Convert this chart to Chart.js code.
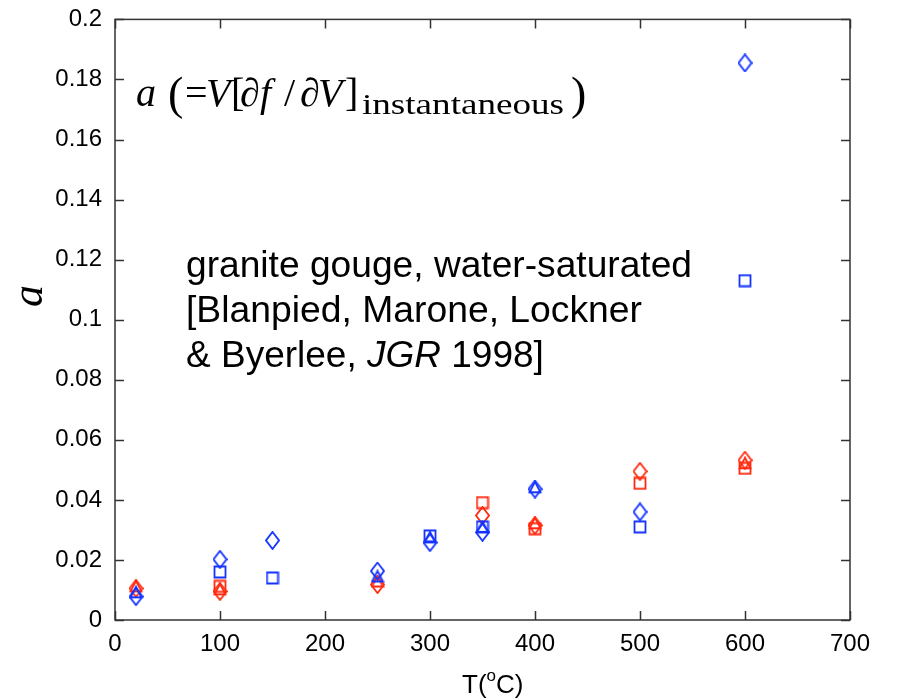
<!DOCTYPE html>
<html>
<head>
<meta charset="utf-8">
<script src="https://cdn.jsdelivr.net/npm/chart.js@4"></script>
<style>
  html, body { margin: 0; padding: 0; background: #fff; }
  #wrap { width: 914px; height: 700px; }
</style>
</head>
<body>
<div id="wrap"><canvas id="myChart" width="914" height="700"></canvas></div>
<script>
const blueSquareT = [100, 150, 300, 350, 500, 600];
const blueSquareA = [0.016, 0.014, 0.028, 0.031, 0.031, 0.113];
const blueDiamondT = [20, 100, 150, 250, 300, 350, 400, 500, 600];
const blueDiamondA = [0.0078, 0.0202, 0.0265, 0.0163, 0.0258, 0.0292, 0.0436, 0.036, 0.1855];
const blueTriangleT = [20, 250, 300, 350, 400];
const blueTriangleA = [0.0092, 0.0145, 0.0275, 0.031, 0.0442];
const redSquareT = [100, 350, 400, 500, 600];
const redSquareA = [0.0112, 0.0391, 0.0304, 0.0455, 0.0505];
const redDiamondT = [20, 100, 250, 350, 400, 500, 600];
const redDiamondA = [0.0105, 0.0095, 0.0118, 0.0348, 0.0315, 0.0495, 0.0532];
const redTriangleT = [20, 100, 250, 400, 600];
const redTriangleA = [0.0112, 0.0102, 0.0128, 0.0322, 0.0522];

const xTicks = [0, 100, 200, 300, 400, 500, 600, 700];
const yTicks = [0, 0.02, 0.04, 0.06, 0.08, 0.1, 0.12, 0.14, 0.16, 0.18, 0.2];

const BLUE = '#1433ff';
const RED = '#ff2a10';

// hollow marker images (matlab style)
function marker(kind, color) {
  const c = document.createElement('canvas');
  const w = kind === 'diamond' ? 15 : 14;
  const h = kind === 'diamond' ? 19 : 14;
  c.width = w; c.height = h;
  const g = c.getContext('2d');
  g.strokeStyle = color;
  g.lineWidth = 1.8;
  g.beginPath();
  if (kind === 'square') {
    g.rect(1.5, 1.5, w - 3, h - 3);
  } else if (kind === 'diamond') {
    g.moveTo(w / 2, 1); g.lineTo(w - 1, h / 2); g.lineTo(w / 2, h - 1); g.lineTo(1, h / 2); g.closePath();
  } else {
    g.moveTo(w / 2, 1.5); g.lineTo(w - 1.5, h - 2); g.lineTo(1.5, h - 2); g.closePath();
  }
  g.stroke();
  return c;
}

function series(label, ts, as, kind, color) {
  return {
    label: label,
    data: ts.map((t, i) => ({ x: t, y: as[i] })),
    showLine: false,
    pointStyle: marker(kind, color),
    pointRadius: 8,
    pointHoverRadius: 8,
    borderColor: color,
    backgroundColor: 'rgba(0,0,0,0)'
  };
}

const sans = "'Liberation Sans', Arial, sans-serif";
const serif = "'Liberation Serif', 'Times New Roman', serif";

// draw a piece of text stretched to a given width
function fitText(g, str, x, y, width) {
  const w = g.measureText(str).width;
  g.save();
  g.translate(x, y);
  g.scale(width / w, 1);
  g.fillText(str, 0, 0);
  g.restore();
}

// inner ticks on all four sides, box, and text annotations
const decor = {
  id: 'decor',
  afterDraw(chart) {
    const g = chart.ctx;
    const a = chart.chartArea;
    const xs = chart.scales.x, ys = chart.scales.y;
    g.save();
    g.strokeStyle = '#333';
    g.lineWidth = 1.5;
    g.strokeRect(a.left, a.top, a.right - a.left, a.bottom - a.top);
    g.beginPath();
    xTicks.forEach(v => {
      const px = Math.round(xs.getPixelForValue(v)) + 0.5;
      g.moveTo(px, a.bottom); g.lineTo(px, a.bottom - 9);
      g.moveTo(px, a.top); g.lineTo(px, a.top + 9);
    });
    yTicks.forEach(v => {
      const py = Math.round(ys.getPixelForValue(v)) + 0.5;
      g.moveTo(a.left, py); g.lineTo(a.left + 9, py);
      g.moveTo(a.right, py); g.lineTo(a.right - 9, py);
    });
    g.stroke();

    g.fillStyle = '#000';
    g.textBaseline = 'alphabetic';
    // formula
    const base = 106;
    g.font = "italic 40px " + serif;
    g.fillText('a', 136, base);
    g.font = "46px " + serif;
    g.fillText('(', 168, base + 3);
    g.font = "40px " + serif;
    g.fillText('=', 185, base);
    g.font = "italic 40px " + serif;
    g.fillText('V', 206, base);
    g.font = "40px " + serif;
    g.fillText('[', 231, base);
    g.fillText('\u2202', 240, base);
    g.font = "italic 40px " + serif;
    g.fillText('f', 260, base);
    g.font = "40px " + serif;
    g.fillText('/', 284, base);
    g.fillText('\u2202', 300, base);
    g.font = "italic 40px " + serif;
    g.fillText('V', 318, base);
    g.font = "40px " + serif;
    g.fillText(']', 345, base);
    g.font = "30px " + serif;
    fitText(g, 'instantaneous', 362, base + 8, 202);
    g.font = "46px " + serif;
    g.fillText(')', 571, base + 3);

    // dataset note
    const x0 = 186;
    g.font = "37px " + sans;
    fitText(g, 'granite gouge, water-saturated', x0, 277, 506);
    fitText(g, '[Blanpied, Marone, Lockner', x0, 322, 456);
    const pre = '& Byerlee, ';
    g.fillText(pre, x0, 367);
    let w = g.measureText(pre).width;
    g.font = "italic 37px " + sans;
    g.fillText('JGR', x0 + w, 367);
    w += g.measureText('JGR').width;
    g.font = "37px " + sans;
    g.fillText(' 1998]', x0 + w, 367);

    // x axis title with superscript
    g.font = "26px " + sans;
    g.fillText('T(', 462, 693);
    w = g.measureText('T(').width;
    g.font = "17px " + sans;
    g.fillText('o', 462 + w, 681);
    const w2 = g.measureText('o').width;
    g.font = "26px " + sans;
    g.fillText('C)', 462 + w + w2, 693);

    // y axis title
    g.translate(42, 296);
    g.rotate(-Math.PI / 2);
    g.font = "italic 44px " + serif;
    g.textAlign = 'center';
    g.fillText('a', 0, 0);
    g.restore();
  }
};

new Chart(document.getElementById('myChart'), {
  type: 'scatter',
  data: {
    datasets: [
      series('blue squares', blueSquareT, blueSquareA, 'square', BLUE),
      series('blue diamonds', blueDiamondT, blueDiamondA, 'diamond', BLUE),
      series('blue triangles', blueTriangleT, blueTriangleA, 'triangle', BLUE),
      series('red squares', redSquareT, redSquareA, 'square', RED),
      series('red diamonds', redDiamondT, redDiamondA, 'diamond', RED),
      series('red triangles', redTriangleT, redTriangleA, 'triangle', RED)
    ]
  },
  options: {
    responsive: false,
    animation: false,
    layout: { padding: { left: 0, right: 64, top: 0, bottom: 0 } },
    plugins: { legend: { display: false }, tooltip: { enabled: false } },
    scales: {
      x: {
        type: 'linear',
        min: 0, max: 700,
        afterBuildTicks: s => { s.ticks = xTicks.map(v => ({ value: v })); },
        afterFit: s => { s.height = 80; },
        grid: { display: false },
        border: { display: false },
        ticks: { color: '#000', padding: 2, maxRotation: 0, font: { family: sans, size: 24 } }
      },
      y: {
        type: 'linear',
        min: 0, max: 0.2,
        afterBuildTicks: s => { s.ticks = yTicks.map(v => ({ value: v })); },
        afterFit: s => { s.width = 115; },
        grid: { display: false },
        border: { display: false },
        ticks: {
          color: '#000', padding: 5,
          font: { family: sans, size: 24 },
          callback: v => String(+v.toFixed(2))
        }
      }
    }
  },
  plugins: [decor]
});
</script>
</body>
</html>
